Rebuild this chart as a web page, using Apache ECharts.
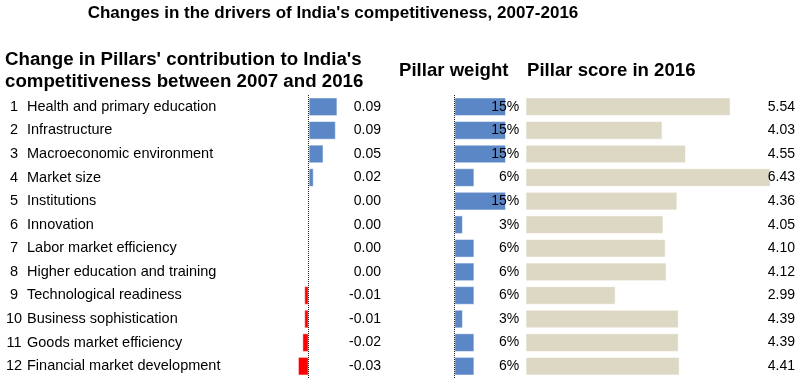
<!DOCTYPE html>
<html>
<head>
<meta charset="utf-8">
<script src="https://cdn.jsdelivr.net/npm/echarts@6/dist/echarts.min.js"></script>
<style>
html,body{margin:0;padding:0;background:#fff;}
#chart{width:800px;height:379px;}
</style>
</head>
<body>
<div id="chart"></div>
<script>
var pillars = ["Health and primary education","Infrastructure","Macroeconomic environment","Market size","Institutions","Innovation","Labor market efficiency","Higher education and training","Technological readiness","Business sophistication","Goods market efficiency","Financial market development"];
var pillarNumbers = [1,2,3,4,5,6,7,8,9,10,11,12];
var contribution = [0.091, 0.086, 0.047, 0.016, 0, 0, 0, 0, -0.014, -0.014, -0.020, -0.034];
var weights = [15, 15, 15, 5.83, 15, 2.5, 5.83, 5.83, 5.83, 2.5, 5.83, 5.83];
var scores = [5.54, 4.03, 4.55, 6.43, 4.36, 4.05, 4.10, 4.12, 2.99, 4.39, 4.39, 4.41];

var FONT = 'Arial, "Liberation Sans", sans-serif';
var chart = echarts.init(document.getElementById('chart'), null, {renderer:'canvas'});

var nameLabels = pillars.map(function(p,i){ return pillarNumbers[i] + '|' + p; });
var contribLabels = contribution.map(function(v){ var s = v.toFixed(2); return s === '-0.00' ? '0.00' : s; });
var weightLabels = weights.map(function(v){ return Math.round(v) + '%'; });
var scoreLabels = scores.map(function(v){ return v.toFixed(2); });

var gridTop = 95, gridH = 283;
var labelStyle = {color:'#000', fontSize:14, fontFamily:FONT};

var option = {
  animation:false,
  backgroundColor:'#fff',
  textStyle:{fontFamily:FONT},
  graphic:[
    {type:'text', style:{text:"Changes in the drivers of India's competitiveness, 2007-2016", x:333, y:13, textAlign:'center', textVerticalAlign:'middle', font:'bold 17px ' + FONT, fill:'#000'}},
    {type:'text', style:{text:"Change in Pillars' contribution to India's", x:5, y:59.5, textAlign:'left', textVerticalAlign:'middle', font:'bold 18.7px ' + FONT, fill:'#000'}},
    {type:'text', style:{text:"competitiveness between 2007 and 2016", x:5, y:81.5, textAlign:'left', textVerticalAlign:'middle', font:'bold 18.7px ' + FONT, fill:'#000'}},
    {type:'text', style:{text:"Pillar weight", x:399, y:71, textAlign:'left', textVerticalAlign:'middle', font:'bold 18.6px ' + FONT, fill:'#000'}},
    {type:'text', style:{text:"Pillar score in 2016", x:527, y:71, textAlign:'left', textVerticalAlign:'middle', font:'bold 18.6px ' + FONT, fill:'#000'}}
  ],
  grid:[
    {left:200, top:gridTop, width:181, height:gridH},
    {left:454.3, top:gridTop, width:65, height:gridH},
    {left:526, top:gridTop, width:270.4, height:gridH}
  ],
  xAxis:[
    {gridIndex:0, type:'value', min:-0.344, max:0.229, show:false},
    {gridIndex:1, type:'value', min:0, max:18.86, show:false},
    {gridIndex:2, type:'value', min:1, max:7, show:false}
  ],
  yAxis:[
    {gridIndex:0, type:'category', inverse:true, data:nameLabels, position:'left',
     axisLine:{show:false}, axisTick:{show:false}, splitLine:{show:false}, z:10,
     axisLabel:{align:'left', margin:193, color:'#000', fontSize:14.5, fontFamily:FONT,
       formatter:function(v){ var parts = v.split('|'); return '{n|' + parts[0] + '}{t|' + parts[1] + '}'; },
       rich:{n:{width:14, align:'right', fontSize:14.5, fontFamily:FONT, color:'#000'}, t:{padding:[0,0,0,6], fontSize:14.5, fontFamily:FONT, color:'#000'}}}},
    {gridIndex:0, type:'category', inverse:true, data:contribLabels, position:'right',
     axisLine:{show:false}, axisTick:{show:false}, splitLine:{show:false}, z:10,
     axisLabel:Object.assign({align:'right', margin:0}, labelStyle)},
    {gridIndex:1, type:'category', inverse:true, data:weightLabels, position:'right',
     axisLine:{show:false}, axisTick:{show:false}, splitLine:{show:false}, z:10,
     axisLabel:Object.assign({align:'right', margin:0}, labelStyle)},
    {gridIndex:2, type:'category', inverse:true, data:scoreLabels, position:'right',
     axisLine:{show:false}, axisTick:{show:false}, splitLine:{show:false}, z:10,
     axisLabel:Object.assign({align:'right', margin:-1.4}, labelStyle)}
  ],
  series:[
    {type:'bar', xAxisIndex:0, yAxisIndex:0, barCategoryGap:'21%',
     data:contribution.map(function(v){ return {value:v, itemStyle:{color: v < 0 ? '#FF0000' : '#5B87C6'}}; }),
     itemStyle:{borderColor:'rgba(255,255,255,0.5)', borderWidth:1},
     markLine:{silent:true, symbol:'none', label:{show:false}, lineStyle:{color:'#222', type:'dotted', width:1}, data:[{xAxis:0}]}},
    {type:'bar', xAxisIndex:1, yAxisIndex:2, barCategoryGap:'21%', data:weights,
     itemStyle:{color:'#5B87C6', borderColor:'rgba(255,255,255,0.5)', borderWidth:1},
     markLine:{silent:true, symbol:'none', label:{show:false}, lineStyle:{color:'#222', type:'dotted', width:1}, data:[{xAxis:0}]}},
    {type:'bar', xAxisIndex:2, yAxisIndex:3, barCategoryGap:'21%', data:scores,
     itemStyle:{color:'#DDD8C4', borderColor:'rgba(255,255,255,0.6)', borderWidth:1}}
  ]
};
chart.setOption(option);
</script>
</body>
</html>
